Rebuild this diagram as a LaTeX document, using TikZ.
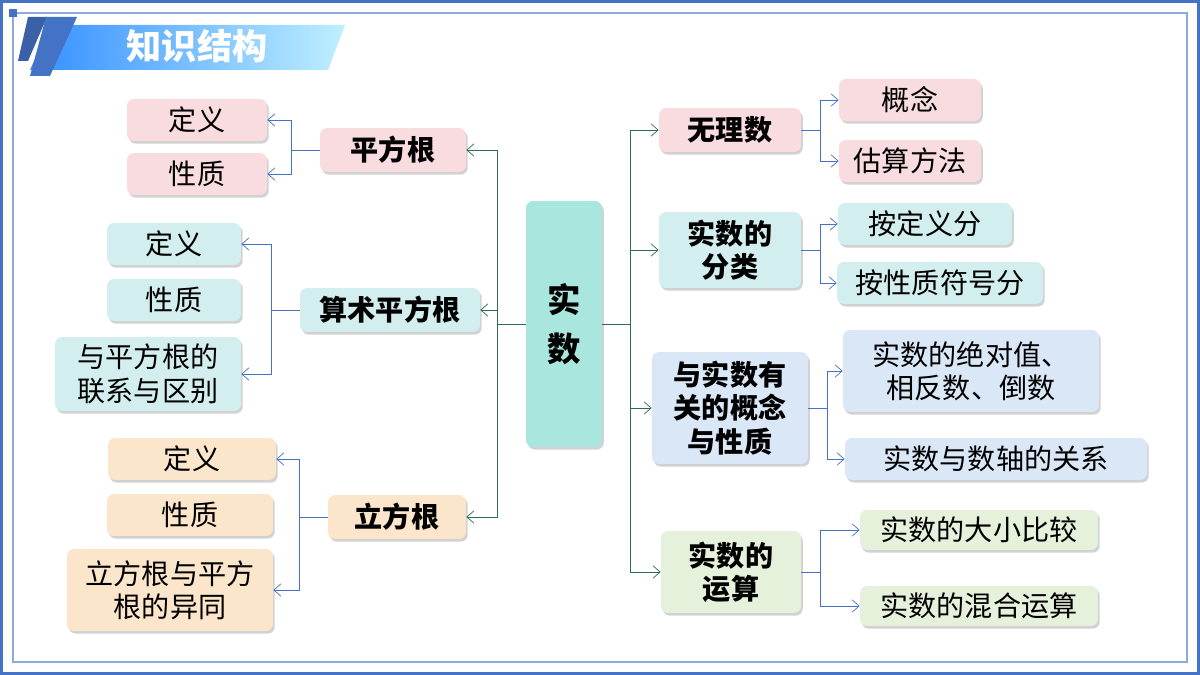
\documentclass[tikz,border=0pt]{standalone}
\usepackage{fontspec}
\newfontfamily\cjk{Noto Sans CJK SC}
\newfontfamily\cjkmed{Noto Sans CJK SC Medium}
\usetikzlibrary{arrows.meta,shadows}
\definecolor{pinkbox}{HTML}{F9DCDF}
\definecolor{cyanbox}{HTML}{D3EEEE}
\definecolor{orangebox}{HTML}{FCE6CB}
\definecolor{bluebox}{HTML}{DAE7F6}
\definecolor{greenbox}{HTML}{E5F1DA}
\definecolor{centerbox}{HTML}{A8E6DE}
\definecolor{trunk}{HTML}{2E6B55}
\definecolor{twig}{HTML}{4472C4}
\definecolor{frame}{HTML}{4472C4}
\tikzset{
  box/.style={rounded corners=4pt, font=\cjk\fontsize{16pt}{19pt}\selectfont, align=center,
    inner sep=0pt, drop shadow={shadow xshift=1pt, shadow yshift=-1.5pt, fill=black!35}},
  head/.style={box, font=\cjk\bfseries\fontsize{16pt}{19pt}\selectfont},
  trunk line/.style={draw=trunk, -{Straight Barb[length=4pt,width=7pt]}},
  twig line/.style={draw=twig, -{Straight Barb[length=4pt,width=7pt]}},
}
\begin{document}
\begin{tikzpicture}[x=0.02cm, y=-0.02cm]
    \useasboundingbox (0,0) rectangle (1200,675);
    % frame
    \draw[frame, line width=2pt] (1,1) rectangle (1199,674);
    \draw[frame!60, line width=0.8pt] (13,13) rectangle (1187,662);
    \fill[frame] (9,9) rectangle (17,17);
    % banner
    \shade[left color=blue!55!cyan!80, right color=blue!25!cyan!25] (50,25) -- (345,25) -- (328,70) -- (30,70) -- cycle;
    \fill[frame!85!black] (28,17) -- (47,17) -- (28,61) -- (18,61) -- cycle;
    \fill[frame] (46,17) -- (77,17) -- (50,76) -- (30,76) -- cycle;
    \node[font=\cjk\bfseries\fontsize{20pt}{24pt}\selectfont, text=white] (title) at (197,46) {知识结构};

    % center
    \node[head, fill=centerbox, minimum width=1.52cm, minimum height=4.92cm, font=\cjk\bfseries\fontsize{19pt}{28pt}\selectfont] (real) at (564,324) {实\\数};

    % left side
    \node[head, fill=pinkbox, minimum width=2.92cm, minimum height=0.88cm] (sqrt) at (393,150) {平方根};
    \node[box, fill=pinkbox, minimum width=2.8cm, minimum height=0.84cm] (sqrt def) at (197,120) {定义};
    \node[box, fill=pinkbox, minimum width=2.8cm, minimum height=0.84cm] (sqrt prop) at (197,174) {性质};

    \node[head, fill=cyanbox, minimum width=3.6cm, minimum height=0.88cm] (asqrt) at (390,310) {算术平方根};
    \node[box, fill=cyanbox, minimum width=2.68cm, minimum height=0.84cm] (asqrt def) at (174,244) {定义};
    \node[box, fill=cyanbox, minimum width=2.68cm, minimum height=0.84cm] (asqrt prop) at (174,300) {性质};
    \node[box, fill=cyanbox, minimum width=3.72cm, minimum height=1.48cm] (asqrt rel) at (148,374) {与平方根的\\联系与区别};

    \node[head, fill=orangebox, minimum width=2.76cm, minimum height=0.88cm] (cbrt) at (397,517) {立方根};
    \node[box, fill=orangebox, minimum width=3.36cm, minimum height=0.84cm] (cbrt def) at (192,459) {定义};
    \node[box, fill=orangebox, minimum width=3.32cm, minimum height=0.84cm] (cbrt prop) at (190,515) {性质};
    \node[box, fill=orangebox, minimum width=4.12cm, minimum height=1.64cm] (cbrt cmp) at (170,590) {立方根与平方\\根的异同};

    % right side
    \node[head, fill=pinkbox, minimum width=2.84cm, minimum height=0.88cm] (irr) at (730,130) {无理数};
    \node[box, fill=pinkbox, minimum width=2.84cm, minimum height=0.84cm] (irr concept) at (910,100) {概念};
    \node[box, fill=pinkbox, minimum width=2.84cm, minimum height=0.84cm] (irr est) at (910,161) {估算方法};

    \node[head, fill=cyanbox, minimum width=2.84cm, minimum height=1.52cm] (class) at (730,250) {实数的\\分类};
    \node[box, fill=cyanbox, minimum width=3.48cm, minimum height=0.84cm] (class def) at (925,224) {按定义分};
    \node[box, fill=cyanbox, minimum width=4.12cm, minimum height=0.84cm] (class sign) at (940,283) {按性质符号分};

    \node[head, fill=bluebox, minimum width=3.12cm, minimum height=2.24cm] (concept) at (730,408) {与实数有\\关的概念\\与性质};
    \node[box, fill=bluebox, minimum width=5.12cm, minimum height=1.64cm] (concept abs) at (971,371) {实数的绝对值、\\相反数、倒数};
    \node[box, fill=bluebox, minimum width=6.04cm, minimum height=0.84cm] (concept axis) at (996,459) {实数与数轴的关系};

    \node[head, fill=greenbox, minimum width=2.8cm, minimum height=1.64cm] (ops) at (731,572) {实数的\\运算};
    \node[box, fill=greenbox, minimum width=4.76cm, minimum height=0.8cm] (ops cmp) at (979,530) {实数的大小比较};
    \node[box, fill=greenbox, minimum width=4.76cm, minimum height=0.8cm] (ops mix) at (979,606) {实数的混合运算};

    % trunk connectors
    \coordinate (left fork) at (497,324);
    \coordinate (right fork) at (630,324);
    \draw[draw=trunk] (real.west) -- (left fork);
    \draw[draw=trunk] (real.east) -- (right fork);
    \foreach \t in {sqrt,asqrt,cbrt}
        \draw[trunk line] (left fork) |- (\t.east);
    \foreach \t in {irr,class,concept,ops}
        \draw[trunk line] (right fork) |- (\t.west);

    % twig connectors
    \foreach \p/\c in {sqrt/sqrt def,sqrt/sqrt prop,asqrt/asqrt def,asqrt/asqrt rel,cbrt/cbrt def,cbrt/cbrt cmp}
        \draw[twig line] (\p.west) -- ++(-28,0) |- (\c.east);
    \foreach \p/\c in {irr/irr concept,irr/irr est,class/class def,class/class sign,concept/concept abs,concept/concept axis,ops/ops cmp,ops/ops mix}
        \draw[twig line] (\p.east) -- ++(19,0) |- (\c.west);
\end{tikzpicture}
\end{document}
